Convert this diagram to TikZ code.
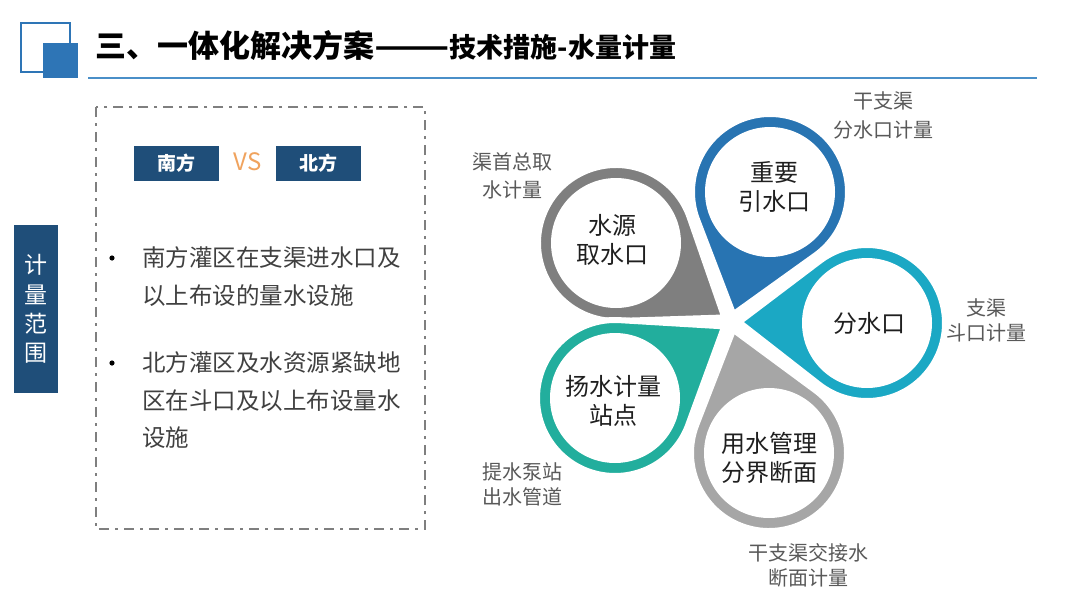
\documentclass[tikz,border=0pt]{standalone}
\usepackage{fontspec}
\setmainfont{Noto Sans CJK SC}
\usetikzlibrary{calc}
\definecolor{navy}{HTML}{1F4E79}
\definecolor{logoblue}{HTML}{2E75B6}
\definecolor{lineblue}{HTML}{4A8FC8}
\definecolor{boxgray}{HTML}{7F7F7F}
\definecolor{bodytext}{HTML}{404040}
\definecolor{labeltext}{HTML}{595959}
\definecolor{vsorange}{HTML}{F0A35E}
\definecolor{pgray}{HTML}{7F7F7F}
\definecolor{pblue}{HTML}{2874B2}
\definecolor{pcyan}{HTML}{1BA8C4}
\definecolor{pteal}{HTML}{22AE9D}
\definecolor{plgray}{HTML}{A6A6A6}
\newcommand\petal[4]{% #1 name, #2 cx, #3 cy, #4 colour
  \pgfmathsetmacro\pphi{atan2(#3-322,#2-731)}
  \pgfmathsetmacro\pdist{veclen(#2-731,#3-322)-8}
  \pgfmathsetmacro\palp{acos(78/\pdist)}
  \pgfmathsetmacro\pstart{\pphi+180-\palp}
  \pgfmathsetmacro\pend{\pphi-180+\palp}
  \filldraw[fill=#4,draw=white,line width=6pt]
    ({731+8*cos(\pphi)},{322+8*sin(\pphi)})
    -- ({#2+78*cos(\pstart)},{#3+78*sin(\pstart)})
    arc[start angle=\pstart, end angle=\pend, radius=78] -- cycle;
  \fill[white] (#2,#3) circle[radius=65];
  \coordinate (#1) at (#2,#3);
}
\tikzset{
  tabbox/.style={fill=navy, draw=none},
  sidebox/.style={fill=navy, draw=none},
  sidetext/.style={text=white, font=\fontsize{19}{22}\selectfont\bfseries, inner sep=0},
  bodypara/.style={text=bodytext, align=left, anchor=west, inner sep=0, font=\fontsize{23.5}{37.5}\selectfont},
  bulletdot/.style={fill=black, draw=none},
  petaltext/.style={text=black!88, align=center, inner sep=0, font=\fontsize{24}{29}\selectfont},
  labelA/.style={text=labeltext, align=center, inner sep=0, font=\fontsize{20}{28.5}\selectfont},
  labelB/.style={text=labeltext, align=center, inner sep=0, font=\fontsize{20}{25}\selectfont},
  dashbox/.style={draw=boxgray, line width=2.8pt, dash pattern=on 10pt off 6pt on 3pt off 6pt},
}
\begin{document}
\begin{tikzpicture}[x=1pt,y=-1pt]
\useasboundingbox[fill=white] (0,0) rectangle (1080,608);
% logo
\draw[logoblue, line width=2.5pt] (21,23) rectangle (70,72);
\fill[logoblue] (43,43) rectangle (78,78);
% title
\node[anchor=base west, inner sep=0, text=black] (title) at (95,57)
  {\fontsize{31}{34}\selectfont\bfseries 三、一体化解决方案\scalebox{1.42}[1]{——}\fontsize{27}{30}\selectfont 技术措施-水量计量};
\draw[lineblue, line width=1.8pt] (88,78) -- (1037,78);
% left tab
\node[tabbox, minimum width=44pt, minimum height=168pt, anchor=north west, inner sep=0] (tab) at (14,225) {};
\node[text=white, align=center, inner sep=0, font=\fontsize{23}{29.3}\selectfont] (tabtext) at (35.5,309) {计\\量\\范\\围};
% dashed box
\draw[dashbox] (96,107) rectangle (425,529);
\node[sidebox, minimum width=85pt, minimum height=35pt, inner sep=0] (south) at (176.5,163.5) {};
\node[sidetext] (southtext) at (south.center) {南方};
\node[sidebox, minimum width=85pt, minimum height=35pt, inner sep=0] (north) at (318.5,163.5) {};
\node[sidetext] (northtext) at (north.center) {北方};
\node[text=vsorange, inner sep=0, font=\fontsize{24}{26}\selectfont] (vs) at (247.5,162) {VS};
% bullets
\fill[bulletdot] (112,258) circle[radius=2.6];
\node[bodypara] (b1) at (142,276.5) {南方灌区在支渠进水口及\\以上布设的量水设施};
\fill[bulletdot] (112,363) circle[radius=2.6];
\node[bodypara] (b2) at (142,400.5) {北方灌区及水资源紧缺地\\区在斗口及以上布设量水\\设施};
% petals
\petal{cA}{616}{243}{pgray}
\petal{cB}{770}{192}{pblue}
\petal{cC}{867}{323}{pcyan}
\petal{cD}{615}{398}{pteal}
\petal{cE}{769}{453}{plgray}
\node[petaltext] (tA) at (612,240) {水源\\取水口};
\node[petaltext] (tB) at (774,187) {重要\\引水口};
\node[petaltext] (tC) at (869,323) {分水口};
\node[petaltext] (tD) at (613,401) {扬水计量\\站点};
\node[petaltext] (tE) at (769,458) {用水管理\\分界断面};
% outer labels
\node[labelA] (lA) at (512,176) {渠首总取\\水计量};
\node[labelA] (lB) at (883,115.5) {干支渠\\分水口计量};
\node[labelB] (lC) at (986,320.5) {支渠\\斗口计量};
\node[labelB] (lD) at (522,484.5) {提水泵站\\出水管道};
\node[labelB] (lE) at (808,565.5) {干支渠交接水\\断面计量};
\end{tikzpicture}
\end{document}
